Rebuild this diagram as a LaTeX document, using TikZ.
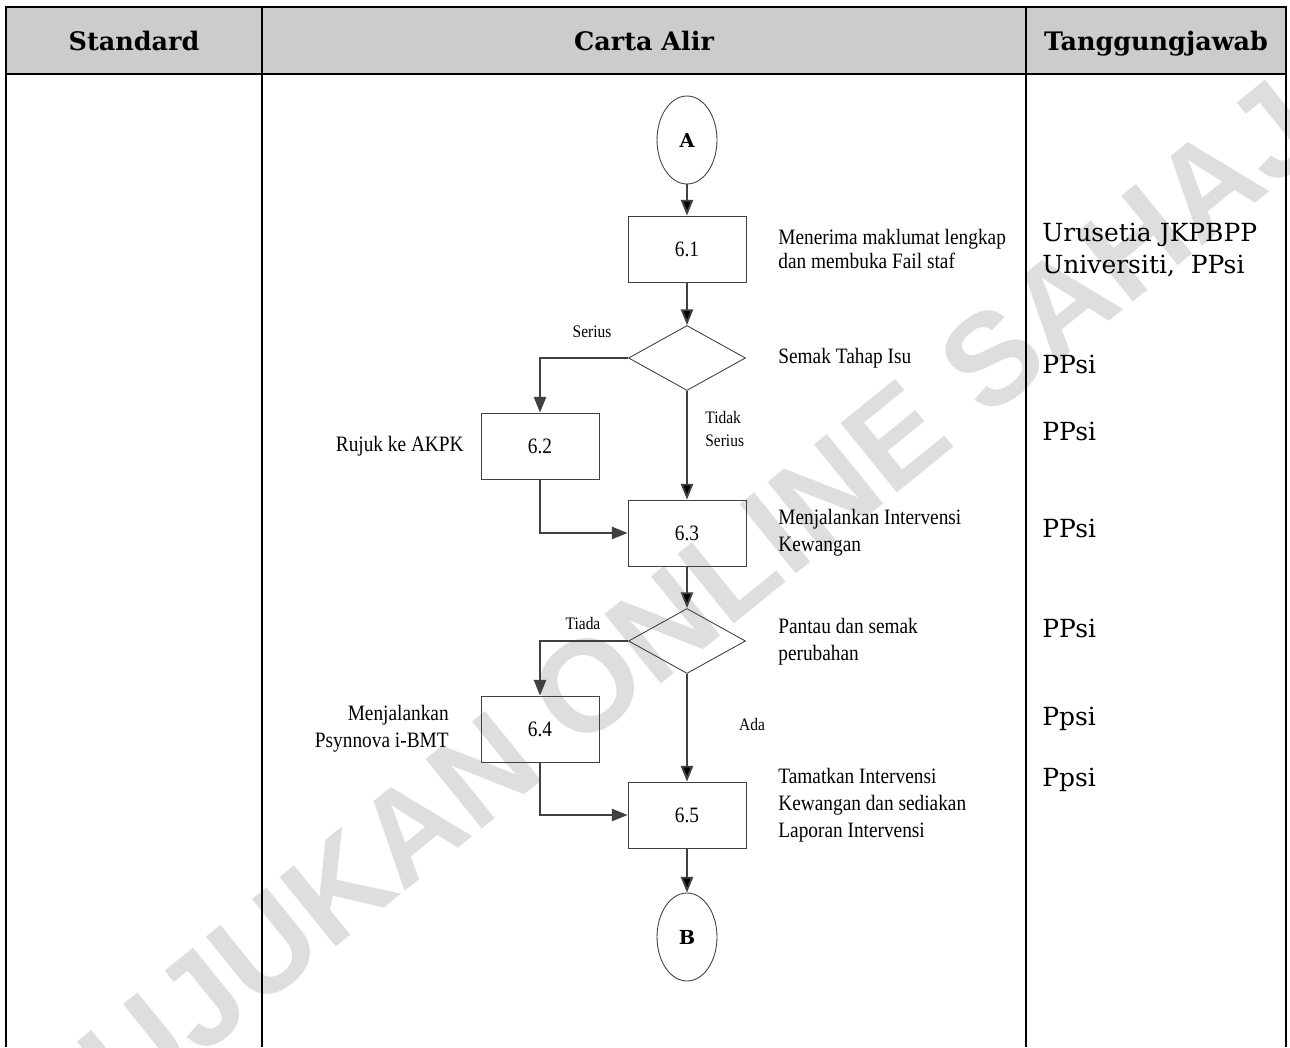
\documentclass[tikz,border=0pt]{standalone}
\usepackage{fontspec}
\setmainfont{Liberation Serif}
\newfontfamily\flowfont[FakeStretch=0.88]{Liberation Serif}
\newfontfamily\headfont{DejaVu Serif}
\newfontfamily\wmfont{Liberation Sans}
\usepackage{tikz}
\usetikzlibrary{positioning,shapes,arrows.meta}
\definecolor{hdrgray}{RGB}{204,204,204}
\definecolor{linegray}{RGB}{64,64,64}
\definecolor{wmgray}{RGB}{222,222,222}

\begin{document}
\begin{tikzpicture}[x=0.02cm,y=-0.02cm,
        process/.style = {draw=linegray, rectangle, line width=0.5pt, minimum width=2.36cm, minimum height=1.32cm, font=\flowfont\fontsize{12.5}{14}\selectfont},
]
\tikzstyle{decision}=[diamond, draw=linegray, line width=0.5pt, minimum width=2.34cm, minimum height=1.3cm, inner sep=0pt]
\tikzstyle{conn}=[ellipse, draw=linegray, line width=0.5pt, minimum width=1.2cm, minimum height=1.76cm, inner sep=0pt, font=\headfont\bfseries\fontsize{11}{13}\selectfont]
\tikzstyle{flow}=[-{Triangle[length=9pt,width=7pt]}, draw=linegray, line width=1.1pt]
\tikzstyle{desc}=[anchor=west, align=left, inner sep=0pt, font=\flowfont\fontsize{12.5}{15.5}\selectfont]
\tikzstyle{small}=[inner sep=0pt, font=\flowfont\fontsize{10}{13}\selectfont]
\tikzstyle{resp}=[anchor=west, align=left, inner sep=0pt, font=\headfont\fontsize{14.2}{18.7}\selectfont]
\tikzstyle{head}=[anchor=base, inner sep=0pt, font=\headfont\bfseries\fontsize{14.5}{17}\selectfont]
\tikzstyle{grid}=[line width=1.2pt, draw=black]

	\useasboundingbox (0,0) rectangle (1290,1047);

	% watermark
	\node[rotate=39, text=wmgray, font=\wmfont\bfseries\fontsize{74}{80}\selectfont] (wm) at (700,595) {RUJUKAN ONLINE SAHAJA};

	% table
	\fill[hdrgray] (6,7) rectangle (1286,74);
	\draw[grid] (6,1047) -- (6,7) -- (1286,7) -- (1286,1047);
	\draw[grid] (6,74) -- (1286,74);
	\draw[grid] (262,7) -- (262,1047);
	\draw[grid] (1026,7) -- (1026,1047);

	\node[head] (hstd) at (134,51) {Standard};
	\node[head] (hflow) at (644,51) {Carta Alir};
	\node[head] (hresp) at (1156,51) {Tanggungjawab};

	% flow
	\node[conn] (A) at (687,140) {A};
	\node[process] (p61) at (687,249) {6.1};
	\node[decision] (d1) at (687,358) {};
	\node[process] (p62) at (540,446) {6.2};
	\node[process] (p63) at (687,533) {6.3};
	\node[decision] (d2) at (687,641) {};
	\node[process] (p64) at (540,729) {6.4};
	\node[process] (p65) at (687,815) {6.5};
	\node[conn] (B) at (687,937) {B};

	\path[flow]
		(A) edge (p61)
		(p61) edge (d1)
		(d1) edge (p63)
		(p63) edge (d2)
		(d2) edge (p65)
		(p65) edge (B);
	\draw[flow] (d1.west) -| (p62.north);
	\draw[flow] (p62.south) |- (p63.west);
	\draw[flow] (d2.west) -| (p64.north);
	\draw[flow] (p64.south) |- (p65.west);

	\node[small] (lser) at (592,332) {Serius};
	\node[small, anchor=west, align=left] (ltid) at (705,429) {Tidak\\Serius};
	\node[small] (ltia) at (583,623) {Tiada};
	\node[small] (lada) at (752,724) {Ada};

	\node[desc, anchor=east] (t62) at (464,446) {Rujuk ke AKPK};
	\node[desc, anchor=east, align=right] (t64) at (449,729) {Menjalankan\\Psynnova i-BMT};

	\node[desc, font=\flowfont\fontsize{12.5}{13.6}\selectfont] (t61) at (778,249) {Menerima maklumat lengkap\\dan membuka Fail staf};
	\node[desc] (td1) at (778,358) {Semak Tahap Isu};
	\node[desc] (t63) at (778,533) {Menjalankan Intervensi\\Kewangan};
	\node[desc] (td2) at (778,642) {Pantau dan semak\\perubahan};
	\node[desc] (t65) at (778,805) {Tamatkan Intervensi\\Kewangan dan sediakan\\Laporan Intervensi};

	% responsibility
	\node[resp] (r1) at (1042,250) {Urusetia JKPBPP\\Universiti,~ PPsi};
	\node[resp] (r2) at (1042,364) {PPsi};
	\node[resp] (r3) at (1042,431) {PPsi};
	\node[resp] (r4) at (1042,528) {PPsi};
	\node[resp] (r5) at (1042,628) {PPsi};
	\node[resp] (r6) at (1042,719) {Ppsi};
	\node[resp] (r7) at (1042,780) {Ppsi};

\end{tikzpicture}
\end{document}
